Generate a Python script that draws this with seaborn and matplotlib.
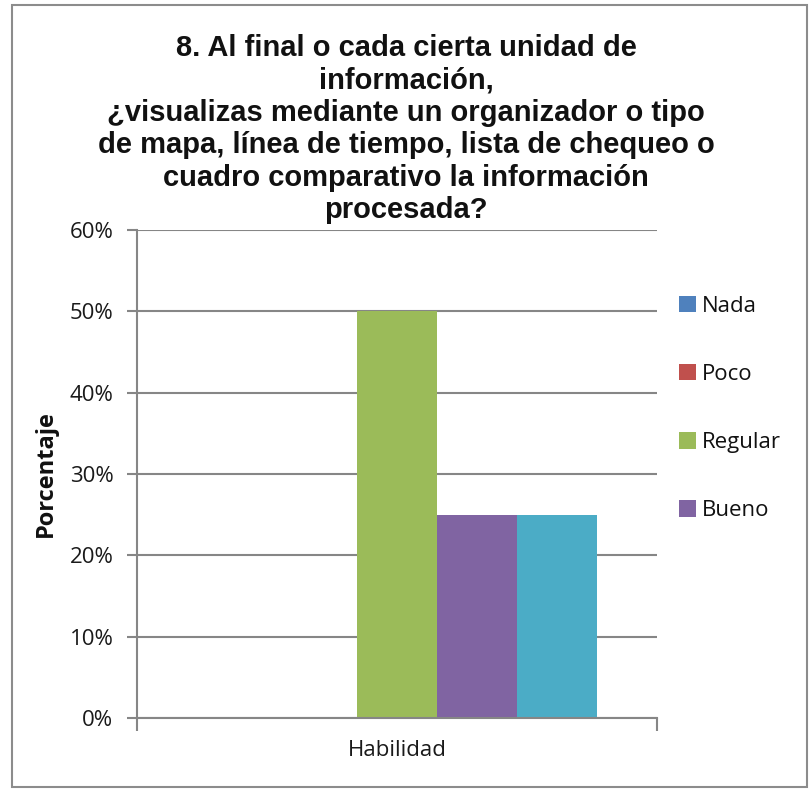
import matplotlib
matplotlib.use("Agg")
import matplotlib.pyplot as plt
from matplotlib.patches import Rectangle
from matplotlib.ticker import FuncFormatter, FixedLocator
import seaborn as sns
import pandas as pd

# Survey answers for question 8 (percent of respondents)
categoria = ["Habilidad"]
series = ["Nada", "Poco", "Regular", "Bueno", "Excelente"]
porcentajes = [0, 0, 50, 25, 25]
colores = ["#4F81BD", "#C0504D", "#9BBB59", "#8064A2", "#4BACC6"]
y_ticks = [0, 10, 20, 30, 40, 50, 60]

titulo = ("8. Al final o cada cierta unidad de\n"
          "información,\n"
          "¿visualizas mediante un organizador o tipo\n"
          "de mapa, línea de tiempo, lista de chequeo o\n"
          "cuadro comparativo la información\n"
          "procesada?")

df = pd.DataFrame({
    "categoria": categoria * len(series),
    "serie": series,
    "valor": porcentajes,
})

sns.set_theme(style="white")
plt.rcParams["font.family"] = ["Open Sans", "DejaVu Sans"]

W, H = 811, 789
fig = plt.figure(figsize=(W / 100, H / 100), dpi=100)
fig.patch.set_facecolor("white")

left, right, top, bottom = 137, 657, 230, 718
ax = fig.add_axes([left / W, 1 - bottom / H, (right - left) / W, (bottom - top) / H])

sns.barplot(data=df, x="categoria", y="valor", hue="serie", hue_order=series,
            palette=colores, saturation=1, width=400 / 520, ax=ax,
            linewidth=0, edgecolor="none")

grid_c = "#868686"
ax.set_xlim(-0.5, 0.5)
ax.set_ylim(0, 60)
ax.yaxis.set_major_locator(FixedLocator(y_ticks))
ax.yaxis.set_major_formatter(FuncFormatter(lambda v, p: f"{v:.0f}%"))
ax.set_axisbelow(True)
ax.grid(axis="y", color=grid_c, linewidth=1.5)
ax.grid(axis="x", visible=False)

for s in ["top", "right"]:
    ax.spines[s].set_visible(False)
for s in ["left", "bottom"]:
    ax.spines[s].set_color(grid_c)
    ax.spines[s].set_linewidth(1.5)

ax.tick_params(axis="y", which="major", left=True, length=7, width=1.5,
               color=grid_c, labelsize=16, labelcolor="#1a1a1a", pad=10)
ax.tick_params(axis="x", which="major", bottom=False, labelsize=16,
               labelcolor="#1a1a1a", pad=10)
ax.set_xticks([-0.5, 0.5], minor=True)
ax.tick_params(axis="x", which="minor", bottom=True, length=9, width=1.5,
               color=grid_c)

ax.set_xlabel("")
ax.set_ylabel("Porcentaje", fontsize=17, fontweight="bold", color="#111111")
ax.yaxis.set_label_coords((58 - left) / (right - left), 0.5)

# legend lists the first four answer levels
handles, labels = ax.get_legend_handles_labels()
if ax.get_legend() is not None:
    ax.get_legend().remove()
fig.legend(handles[:4], labels[:4], loc="upper left",
           bbox_to_anchor=(670 / W, 1 - 287 / H), frameon=False,
           fontsize=16, handlelength=0.75, handleheight=0.75,
           handletextpad=0.3, labelspacing=2.12, borderaxespad=0,
           labelcolor="#111111")

fig.text(406 / W, 1 - 34 / H, titulo, ha="center", va="top",
         fontsize=21, fontweight="bold", family="Liberation Sans",
         linespacing=1.2, color="#111111")

# chart frame
fig.add_artist(Rectangle((12 / W, 1 - 787 / H), (807 - 12) / W, (787 - 5) / H,
                         transform=fig.transFigure, fill=False,
                         edgecolor="#8c8c8c", linewidth=1.5))

fig.savefig("out.png", dpi=100, facecolor="white")
